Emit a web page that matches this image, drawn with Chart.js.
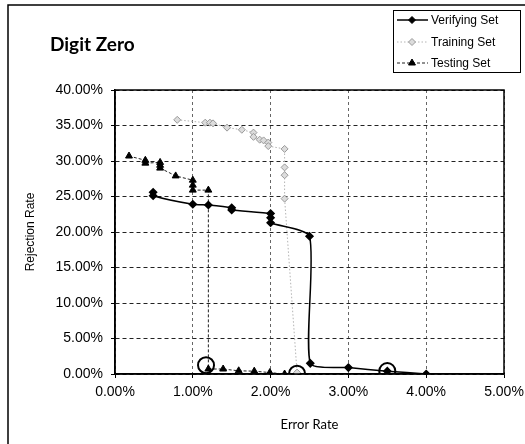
<!DOCTYPE html>
<html>
<head>
<meta charset="utf-8">
<title>Digit Zero</title>
<script src="https://cdn.jsdelivr.net/npm/chart.js@4.4.1/dist/chart.umd.min.js"></script>
<style>
  html, body { margin: 0; padding: 0; background: #fff; }
  #wrap { width: 525px; height: 444px; position: relative; }
</style>
</head>
<body>
<div id="wrap"><canvas id="chart" width="525" height="444"></canvas></div>
<script>
// Error rate (%) vs rejection rate (%) for each set
const verifyErr = [0.49, 0.49, 1.00, 1.20, 1.50, 1.50, 2.00, 2.00, 2.00, 2.50, 2.51, 3.00, 3.50, 4.00];
const verifyRej = [25.6, 25.1, 23.9, 23.8, 23.4, 23.1, 22.6, 22.0, 21.3, 19.4, 1.5, 0.9, 0.4, 0.0];

const trainErr = [0.80, 1.16, 1.22, 1.26, 1.44, 1.63, 1.78, 1.78, 1.86, 1.91, 1.97, 1.97, 2.18, 2.18, 2.18, 2.18, 2.34];
const trainRej = [35.8, 35.4, 35.4, 35.3, 34.7, 34.4, 34.0, 33.4, 33.0, 32.9, 32.6, 32.1, 31.7, 29.1, 28.0, 24.7, 0.2];

const testErr = [0.18, 0.39, 0.39, 0.58, 0.58, 0.58, 0.78, 1.00, 1.00, 1.00, 1.20, 1.20, 1.39, 1.59, 1.79, 1.99, 2.18];
const testRej = [30.7, 30.1, 29.7, 29.8, 29.4, 29.0, 27.9, 27.3, 26.6, 25.9, 25.9, 0.7, 0.7, 0.45, 0.4, 0.2, 0.0];

// circled operating points
const markErr = [1.17, 2.34, 3.50];
const markRej = [1.25, 0.05, 0.42];

const seriesNames = ['Verifying Set', 'Training Set', 'Testing Set'];

const toPoints = (xs, ys) => xs.map((x, i) => ({ x: x, y: ys[i] }));
const pct = v => Number(v).toFixed(2) + '%';

const AXIS_FONT = { family: '"Liberation Sans", Arial, sans-serif', size: 14 };

// frame, plot box, title and legend drawn around the chart
const decor = {
    id: 'decor',
    beforeDraw(chart) {
        const ctx = chart.ctx;
        ctx.save();
        ctx.fillStyle = '#fff';
        ctx.fillRect(0, 0, chart.width, chart.height);
        ctx.strokeStyle = '#000';
        ctx.lineWidth = 1.5;
        ctx.beginPath();
        ctx.moveTo(8, chart.height);
        ctx.lineTo(8, 5);
        ctx.lineTo(chart.width, 5);
        ctx.stroke();
        ctx.restore();
    },
    afterDatasetsDraw(chart) {
        const { ctx, chartArea: a } = chart;
        ctx.save();
        ctx.strokeStyle = '#000';
        ctx.lineWidth = 1.5;
        ctx.strokeRect(a.left, a.top, a.right - a.left, a.bottom - a.top);
        ctx.restore();
    },
    afterDraw(chart) {
        const ctx = chart.ctx;
        ctx.save();
        // title
        ctx.fillStyle = '#000';
        ctx.font = 'bold 19px Lato, "Open Sans", sans-serif';
        ctx.textBaseline = 'middle';
        ctx.textAlign = 'left';
        ctx.fillText('Digit Zero', 50, 45);

        // legend box
        const bx = 393, by = 10, bw = 127, bh = 62;
        ctx.strokeStyle = '#000';
        ctx.lineWidth = 1;
        ctx.strokeRect(bx + 0.5, by + 0.5, bw, bh);
        const rows = [20, 42, 63];
        ctx.font = '12px "Liberation Sans", Arial, sans-serif';
        rows.forEach((ry, i) => {
            const ds = chart.data.datasets[i];
            ctx.save();
            ctx.strokeStyle = ds.borderColor;
            ctx.lineWidth = ds.borderWidth;
            ctx.setLineDash(ds.borderDash || []);
            ctx.beginPath();
            ctx.moveTo(397, ry);
            ctx.lineTo(428, ry);
            ctx.stroke();
            ctx.setLineDash([]);
            ctx.fillStyle = ds.pointBackgroundColor;
            ctx.strokeStyle = ds.pointBorderColor;
            ctx.lineWidth = 1;
            Chart.helpers.drawPoint(ctx, { pointStyle: ds.pointStyle, radius: ds.pointRadius, borderWidth: 1 }, 412, ry);
            ctx.restore();
            ctx.fillStyle = '#000';
            ctx.fillText(seriesNames[i], 431, ry + 1);
        });
        ctx.restore();
    }
};

new Chart(document.getElementById('chart'), {
    type: 'scatter',
    data: {
        datasets: [
            {
                label: seriesNames[0],
                data: toPoints(verifyErr, verifyRej),
                showLine: true,
                borderColor: '#000',
                borderWidth: 1.5,
                tension: 0.2,
                pointStyle: 'rectRot',
                pointRadius: 3.5,
                pointBackgroundColor: '#000',
                pointBorderColor: '#000'
            },
            {
                label: seriesNames[1],
                data: toPoints(trainErr, trainRej),
                showLine: true,
                borderColor: '#b4b4b4',
                borderWidth: 1,
                borderDash: [1.5, 2],
                tension: 0,
                pointStyle: 'rectRot',
                pointRadius: 3.5,
                pointBackgroundColor: '#dcdcdc',
                pointBorderColor: '#9a9a9a'
            },
            {
                label: seriesNames[2],
                data: toPoints(testErr, testRej),
                showLine: true,
                borderColor: '#222',
                borderWidth: 1,
                borderDash: [3, 2],
                tension: 0,
                pointStyle: 'triangle',
                pointRadius: 4,
                pointBackgroundColor: '#000',
                pointBorderColor: '#000'
            },
            {
                label: 'marks',
                data: toPoints(markErr, markRej),
                showLine: false,
                pointStyle: 'circle',
                pointRadius: 8,
                pointBorderWidth: 2,
                pointBackgroundColor: 'rgba(0,0,0,0)',
                pointBorderColor: '#000',
                order: -1
            }
        ]
    },
    options: {
        responsive: false,
        animation: false,
        layout: { padding: { top: 90, right: 21, left: 0, bottom: 0 } },
        plugins: {
            legend: { display: false },
            title: { display: false },
            tooltip: { enabled: false }
        },
        scales: {
            x: {
                type: 'linear',
                min: 0,
                max: 5,
                ticks: {
                    stepSize: 1,
                    padding: 6,
                    color: '#000',
                    font: AXIS_FONT,
                    callback: v => pct(v)
                },
                grid: {
                    color: '#666',
                    lineWidth: 1,
                    tickLength: 4,
                    tickColor: '#000',
                    tickBorderDash: []
                },
                border: { display: true, color: '#000', width: 1.5, dash: [3, 3] },
                title: {
                    display: true,
                    text: 'Error Rate',
                    color: '#000',
                    font: { family: 'Lato, "Open Sans", sans-serif', size: 13 },
                    padding: { top: 0, bottom: 11 }
                },
                afterFit(scale) {
                    scale.height = 70;
                    scale.paddingLeft = 0;
                    scale.paddingRight = 0;
                }
            },
            y: {
                type: 'linear',
                min: 0,
                max: 40,
                ticks: {
                    stepSize: 5,
                    padding: 8,
                    color: '#000',
                    font: AXIS_FONT,
                    callback: v => pct(v)
                },
                grid: {
                    color: '#222',
                    lineWidth: 1,
                    tickLength: 4,
                    tickColor: '#000'
                },
                border: { display: true, color: '#000', width: 1.5, dash: [4, 3] },
                title: {
                    display: true,
                    text: 'Rejection Rate',
                    color: '#000',
                    font: { family: '"Liberation Sans", Arial, sans-serif', size: 12 },
                    padding: { top: 23, bottom: 0 }
                },
                afterFit(scale) {
                    scale.width = 115;
                    scale.paddingTop = 0;
                    scale.paddingBottom = 0;
                }
            }
        }
    },
    plugins: [decor]
});
</script>
</body>
</html>
